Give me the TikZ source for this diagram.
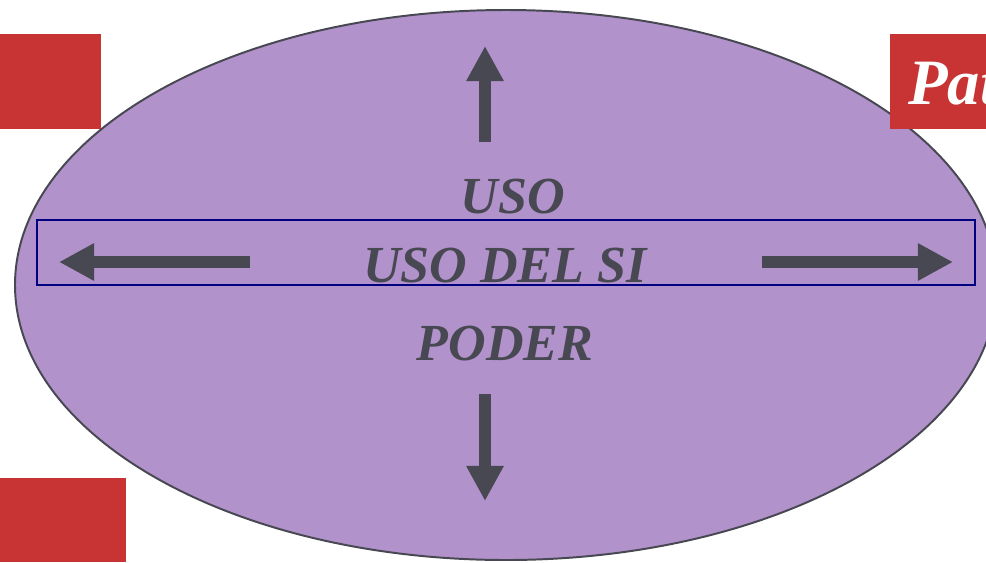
\documentclass[tikz,border=0pt]{standalone}
\usepackage{fontspec}
\setmainfont{Liberation Serif}
\usetikzlibrary{arrows.meta}
\definecolor{lila}{HTML}{B192CB}
\definecolor{rojo}{HTML}{C83434}
\definecolor{gris}{HTML}{484852}
\definecolor{marino}{HTML}{000080}

\begin{document}
\begin{tikzpicture}[x=0.025cm, y=-0.025cm,
  flecha/.style={line width=8.5pt, gris, -{Triangle[length=25pt, width=25pt]}},
  rotulo/.style={text=gris, anchor=base, inner sep=0pt,
    font=\fontsize{37}{40}\selectfont\bfseries\itshape}]
\useasboundingbox (0,0) rectangle (986,562);
\clip (0,0) rectangle (986,562);

\draw [gris, line width=1.4pt, fill=lila] (506,285) ellipse [x radius=491, y radius=275];

\fill [rojo] (0,34) rectangle (101,129);
\fill [rojo] (0,478) rectangle (126,562);
\fill [rojo] (890,34) rectangle (1000,129);
\node [anchor=base west, text=white, inner sep=0pt,
  font=\fontsize{46}{50}\selectfont\bfseries\itshape] (pat) at (908,104) {Pat};

\draw [marino, line width=1.4pt] (37,220) rectangle (975,285);

\node [rotulo] (uso) at (513,213) {USO};
\node [rotulo] (usodelsi) at (505,282) {USO DEL SI};
\node [rotulo] (poder) at (505,360) {PODER};

\coordinate (arriba0) at (485,142);
\coordinate (arriba1) at (485,46);
\coordinate (abajo0) at (485,394);
\coordinate (abajo1) at (485,501);
\coordinate (izq0) at (250,262);
\coordinate (izq1) at (59,262);
\coordinate (der0) at (762,262);
\coordinate (der1) at (953,262);

\draw [flecha] (arriba0) -- (arriba1);
\draw [flecha] (abajo0) -- (abajo1);
\draw [flecha] (izq0) -- (izq1);
\draw [flecha] (der0) -- (der1);
\end{tikzpicture}
\end{document}
